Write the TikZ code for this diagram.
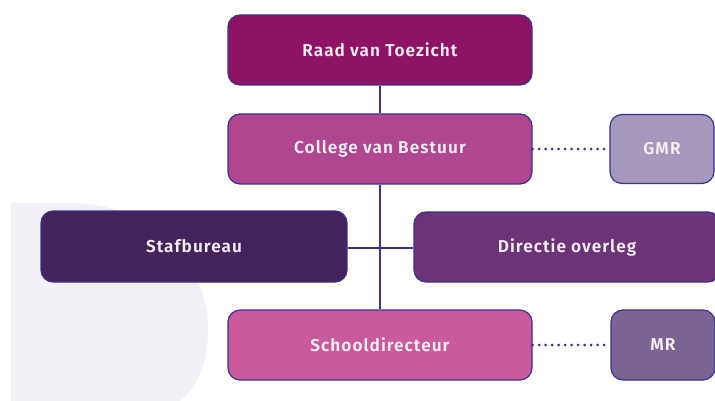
\documentclass[tikz,border=0pt]{standalone}
\usepackage{fontspec}
\setmainfont{Fira Sans}
\newfontfamily\boxfont[LetterSpace=6]{Fira Sans SemiBold}
\definecolor{edge}{HTML}{3C3190}
\definecolor{cRvT}{HTML}{8E1266}
\definecolor{cCvB}{HTML}{B04590}
\definecolor{cGMR}{HTML}{A697BD}
\definecolor{cStaf}{HTML}{44225C}
\definecolor{cDir}{HTML}{6C3376}
\definecolor{cSch}{HTML}{C95B9C}
\definecolor{cMR}{HTML}{7B6493}
\definecolor{blob}{HTML}{F2F0F6}
\definecolor{txt}{HTML}{F6F0F6}
\begin{document}
\begin{tikzpicture}[x=1pt,y=1pt,
  box/.style={draw=edge,line width=1.2pt,rounded corners=12pt,inner sep=0pt,
    text=txt,font=\boxfont\fontsize{17.2}{19}\selectfont},
  link/.style={draw=edge,line width=1.3pt},
  dotlink/.style={draw=edge,line width=3pt,line cap=round,dash pattern=on 0pt off 6.5pt}]
\useasboundingbox (0,0) rectangle (715,-401);
\fill[blob] (11,-203) -- (70,-203) .. controls (150,-203) and (208,-262) .. (208,-330)
  .. controls (208,-365) and (196,-388) .. (180,-401) -- (11,-401) -- cycle;
\node[box,fill=cRvT,minimum width=304pt,minimum height=70pt] (rvt) at (380,-50) {Raad van Toezicht};
\node[box,fill=cCvB,minimum width=304pt,minimum height=70pt] (cvb) at (380,-149) {College van Bestuur};
\node[box,fill=cGMR,minimum width=104pt,minimum height=69pt] (gmr) at (662,-149) {GMR};
\node[box,fill=cStaf,minimum width=306pt,minimum height=71pt] (staf) at (194,-246.5) {Stafbureau};
\node[box,fill=cDir,minimum width=306pt,minimum height=70pt] (dir) at (567,-247) {Directie overleg};
\node[box,fill=cSch,minimum width=304pt,minimum height=70pt] (sch) at (380,-345) {Schooldirecteur};
\node[box,fill=cMR,minimum width=104pt,minimum height=70pt] (mr) at (663,-345) {MR};
\coordinate (j) at (380,-248);
\draw[link] (rvt.south) -- (cvb.north);
\draw[link] (cvb.south) -- (sch.north);
\draw[link] (staf.east |- j) -- (dir.west |- j);
\draw[dotlink] (cvb.east) -- (gmr.west);
\draw[dotlink] (sch.east) -- (mr.west);
\end{tikzpicture}
\end{document}
